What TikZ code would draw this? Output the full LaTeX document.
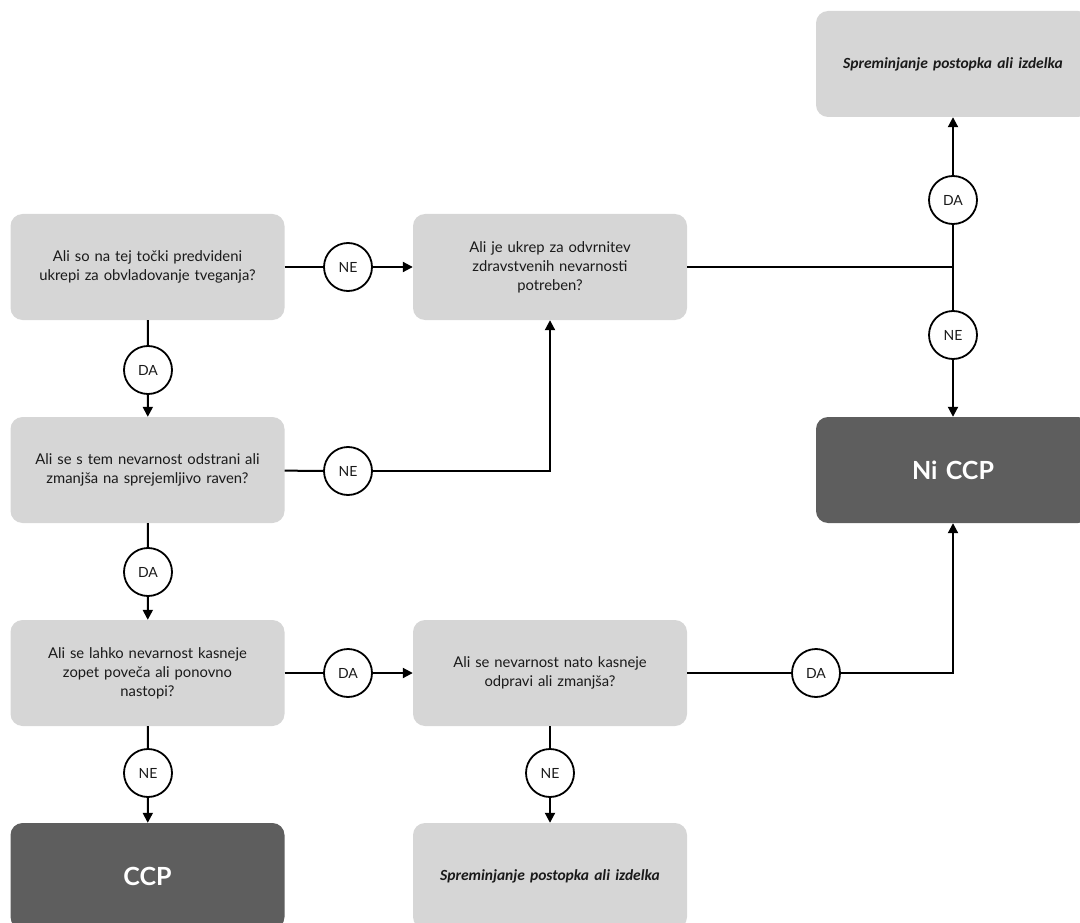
\documentclass[tikz,border=0pt]{standalone}
\usepackage{fontspec}
\usepackage{xcolor}
\usepackage{tikz}
\usetikzlibrary{
		arrows.meta,
		calc,
		positioning
	}
\setmainfont{Lato}
\newfontfamily\changefont{Carlito}
\definecolor{grayscale-box}{HTML}{D6D6D6}
\definecolor{grayscale-dark}{HTML}{5E5E5E}
\definecolor{grayscale-text}{HTML}{1A1A1A}
\tikzset{%
		every text node part/.style = {
			align = center
		},
		question/.style = {
			rectangle,
			rounded corners = 12pt,
			fill = grayscale-box,
			text = grayscale-text,
			minimum width = 274pt,
			minimum height = 106pt,
			text width = 250pt,
			font = \fontsize{14.8pt}{19pt}\selectfont
		},
		verdict/.style = {
			question,
			fill = grayscale-dark,
			text = white,
			font = \fontsize{25pt}{30pt}\selectfont\bfseries
		},
		change/.style = {
			question,
			font = \fontsize{15.5pt}{18pt}\selectfont\changefont\bfseries\itshape
		},
		answer/.style = {
			circle,
			draw,
			line width = 1.8pt,
			fill = white,
			minimum size = 48pt,
			inner sep = 0pt,
			text = grayscale-text,
			font = \fontsize{14pt}{16pt}\selectfont
		},
		link/.style = {
			line width = 2pt
		},
		flow/.style = {
			link,
			-{Triangle[length=10pt, width=10pt]}
		}
	}

\begin{document}
\begin{tikzpicture}[x = 1pt, y = -1pt]
		\useasboundingbox (0, 0) rectangle (1080, 923);
		% left column
		\node [question] (points) at (147.5, 267) {Ali so na tej točki predvideni\\ukrepi za obvladovanje tveganja?};
		\node [question] (removed) at (147.5, 470) {Ali se s tem nevarnost odstrani ali\\zmanjša na sprejemljivo raven?};
		\node [question] (returns) at (147.5, 673) {Ali se lahko nevarnost kasneje\\zopet poveča ali ponovno\\nastopi?};
		\node [verdict] (ccp) at (147.5, 876) {CCP};
		% middle column
		\node [question] (needed) at (550, 267) {Ali je ukrep za odvrnitev\\zdravstvenih nevarnosti\\potreben?};
		\node [question] (later) at (550, 673) {Ali se nevarnost nato kasneje\\odpravi ali zmanjša?};
		\node [change] (changelow) at (550, 876) {Spreminjanje postopka ali izdelka};
		% right column
		\node [change] (changetop) at (953, 64) {Spreminjanje postopka ali izdelka};
		\node [verdict] (noccp) at (953, 470) {Ni CCP};

		\node [answer] (ne-points) at (348, 267) {NE};
		\node [answer] (da-points) at (148, 370) {DA};
		\node [answer] (ne-removed) at (348, 471) {NE};
		\node [answer] (da-removed) at (148, 572) {DA};
		\node [answer] (da-returns) at (348, 673) {DA};
		\node [answer] (ne-returns) at (148, 773) {NE};
		\node [answer] (ne-later) at (550, 773) {NE};
		\node [answer] (da-later) at (816, 673) {DA};
		\node [answer] (da-needed) at (953, 200) {DA};
		\node [answer] (ne-needed) at (953, 335) {NE};
		\coordinate (split) at (953, 267);

		\draw [link] (points) -- (ne-points);
		\draw [flow] (ne-points) -- (needed);
		\draw [link] (points) -- (da-points);
		\draw [flow] (da-points) -- (removed);
		\draw [link] (removed) -- (ne-removed);
		\draw [flow] (ne-removed) -| (needed);
		\draw [link] (removed) -- (da-removed);
		\draw [flow] (da-removed) -- (returns);
		\draw [link] (returns) -- (da-returns);
		\draw [flow] (da-returns) -- (later);
		\draw [link] (returns) -- (ne-returns);
		\draw [flow] (ne-returns) -- (ccp);
		\draw [link] (later) -- (ne-later);
		\draw [flow] (ne-later) -- (changelow);
		\draw [link] (later) -- (da-later);
		\draw [flow] (da-later) -| (noccp);
		\draw [link] (needed.east) -- (split);
		\draw [link] (da-needed) -- (ne-needed);
		\draw [flow] (da-needed) -- (changetop);
		\draw [flow] (ne-needed) -- (noccp);
	\end{tikzpicture}
\end{document}
